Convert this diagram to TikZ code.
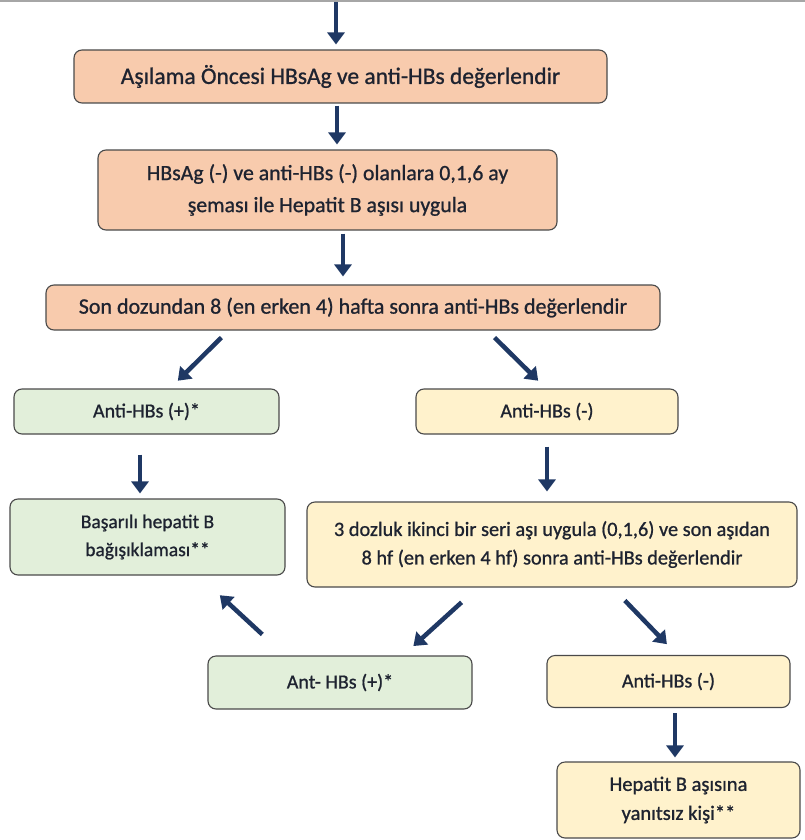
\documentclass[tikz,border=0pt]{standalone}
\usepackage{fontspec}
\setmainfont{Carlito}[FakeBold=0.9]
\usepackage{xcolor}
\usepackage{tikz}
\usetikzlibrary{arrows.meta}
\definecolor{peach}{HTML}{F8CBAD}
\definecolor{mint}{HTML}{E2EFDA}
\definecolor{cream}{HTML}{FFF2CC}
\definecolor{navy}{HTML}{1F3864}
\definecolor{edge}{HTML}{4A4A4A}
\definecolor{ink}{HTML}{1E2330}

\begin{document}
\begin{tikzpicture}[x=1pt, y=-1pt, box/.style={draw=edge, line width=1.1pt, rounded corners=8pt, align=center, text=ink, inner sep=0pt, font=\fontsize{20}{29}\selectfont}, orangebox/.style={box, fill=peach}, greenbox/.style={box, fill=mint}, yellowbox/.style={box, fill=cream}, arr/.style={navy, line width=4.5pt, -{Triangle[length=12pt, width=17pt]}}]
  \useasboundingbox (0,0) rectangle (805,840);
  \draw[gray!70, line width=2pt] (0,1) -- (805,1);
  \coordinate (start) at (336,2);
  \node[orangebox, minimum width=533pt, minimum height=53pt, font=\fontsize{23.5}{29}\selectfont](pre) at (340.5,76.5) {Aşılama Öncesi HBsAg ve anti-HBs değerlendir};
  \node[orangebox, minimum width=459pt, minimum height=80pt, font=\fontsize{21.8}{32}\selectfont](vac) at (327.5,190) {HBsAg (-) ve anti-HBs (-) olanlara 0,1,6 ay\\şeması ile Hepatit B aşısı uygula};
  \node[orangebox, minimum width=614pt, minimum height=45pt, font=\fontsize{22}{29}\selectfont](chk) at (353,307.5) {Son dozundan 8 (en erken 4) hafta sonra anti-HBs değerlendir};
  \node[greenbox, minimum width=265pt, minimum height=45pt](pos1) at (146.5,411.5) {Anti-HBs (+)*};
  \node[yellowbox, minimum width=262pt, minimum height=45pt](neg1) at (547,411.5) {Anti-HBs (-)};
  \node[greenbox, minimum width=275pt, minimum height=76pt, font=\fontsize{19.5}{28}\selectfont](ok) at (147.5,537) {Başarılı hepatit B\\bağışıklaması**};
  \node[yellowbox, minimum width=490pt, minimum height=85pt, font=\fontsize{20.3}{28.5}\selectfont](rep) at (552,544.5) {3 dozluk ikinci bir seri aşı uygula (0,1,6) ve son aşıdan\\8 hf (en erken 4 hf) sonra anti-HBs değerlendir};
  \node[greenbox, minimum width=264pt, minimum height=53pt](pos2) at (340,682.5) {Ant- HBs (+)*};
  \node[yellowbox, minimum width=243pt, minimum height=52pt](neg2) at (668.5,681.5) {Anti-HBs (-)};
  \node[yellowbox, minimum width=243pt, minimum height=76pt, font=\fontsize{20.5}{29}\selectfont](nonresp) at (678.5,800) {Hepatit B aşısına\\yanıtsız kişi**};
  \draw[arr, shorten >=5pt] (start) -- (start |- pre.north);
  \draw[arr, shorten <=2pt, shorten >=5pt] ([xshift=-3.5pt]pre.south) -- ([xshift=-3.5pt]pre.south |- vac.north);
  \draw[arr, shorten <=3pt, shorten >=8pt] ([xshift=15.5pt]vac.south) -- ([xshift=15.5pt]vac.south |- chk.north);
  \draw[arr, shorten <=10pt, shorten >=11pt] ([xshift=183pt]chk.south west) -- ([xshift=23.5pt]pos1.north);
  \draw[arr, shorten <=10pt, shorten >=11pt] ([xshift=442pt]chk.south west) -- ([xshift=-1pt]neg1.north);
  \draw[arr, shorten <=20pt, shorten >=5pt] ([xshift=-6.5pt]pos1.south) -- ([xshift=-6.5pt]pos1.south |- ok.north);
  \draw[arr, shorten <=12pt, shorten >=10pt] (neg1.south) -- (neg1.south |- rep.north);
  \draw[arr, shorten <=22pt, shorten >=14pt] ([xshift=171.4pt]rep.south west) -- ([xshift=63pt]pos2.north);
  \draw[arr, shorten <=18pt, shorten >=15pt] ([xshift=305.9pt]rep.south west) -- ([xshift=8.8pt]neg2.north);
  \draw[arr, shorten <=31pt, shorten >=29pt] ([xshift=77.6pt]pos2.north west) -- ([xshift=51pt]ok.south);
  \draw[arr, shorten <=5pt, shorten >=4pt] ([xshift=6.5pt]neg2.south) -- ([xshift=6.5pt]neg2.south |- nonresp.north);
\end{tikzpicture}
\end{document}
